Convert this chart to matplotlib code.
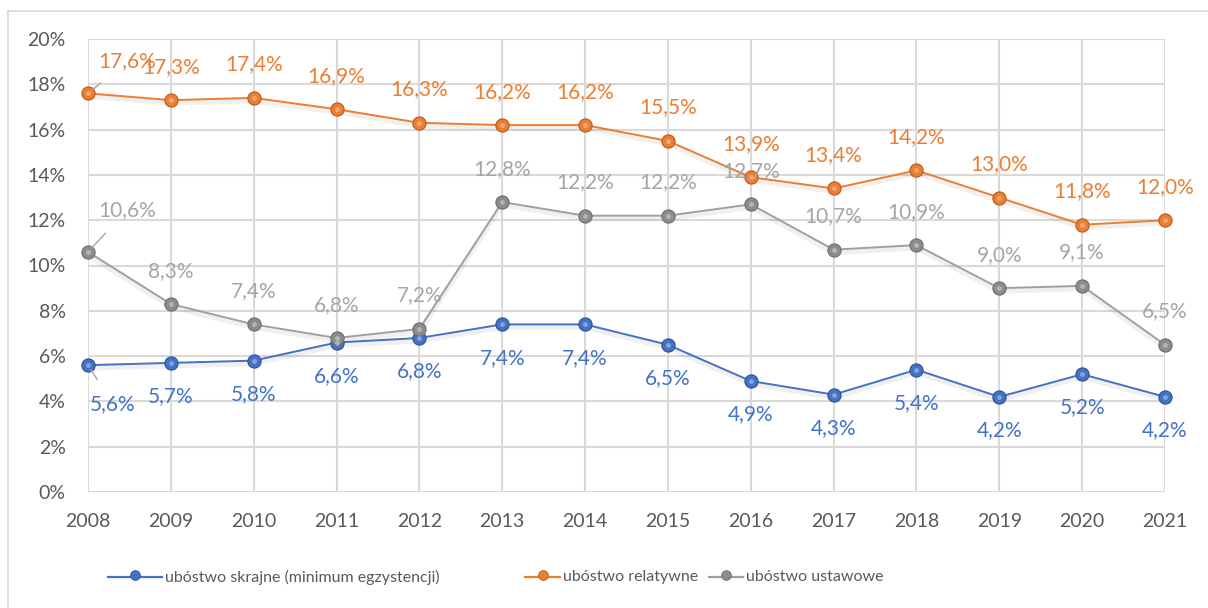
import matplotlib
matplotlib.use("Agg")
import matplotlib.pyplot as plt
from matplotlib.lines import Line2D

plt.rcParams['font.family'] = ['Lato', 'DejaVu Sans']

years = [2008, 2009, 2010, 2011, 2012, 2013, 2014, 2015, 2016, 2017, 2018, 2019, 2020, 2021]
skrajne = [5.6, 5.7, 5.8, 6.6, 6.8, 7.4, 7.4, 6.5, 4.9, 4.3, 5.4, 4.2, 5.2, 4.2]
relatywne = [17.6, 17.3, 17.4, 16.9, 16.3, 16.2, 16.2, 15.5, 13.9, 13.4, 14.2, 13.0, 11.8, 12.0]
ustawowe = [10.6, 8.3, 7.4, 6.8, 7.2, 12.8, 12.2, 12.2, 12.7, 10.7, 10.9, 9.0, 9.1, 6.5]
yticks = [0, 2, 4, 6, 8, 10, 12, 14, 16, 18, 20]
names = ["ubóstwo skrajne (minimum egzystencji)", "ubóstwo relatywne", "ubóstwo ustawowe"]

BLUE = "#4472C4"
ORANGE = "#ED7D31"
GRAY = "#A5A5A5"
GRID = "#D9D9D9"
TXT = "#595959"

W, H = 1208, 608
fig = plt.figure(figsize=(W / 100, H / 100), dpi=100)
# chart frame (left and top)
fig.add_artist(Line2D([8 / W, 8 / W], [0, 1 - 11 / H], color=GRID, lw=1.2))
fig.add_artist(Line2D([8 / W, 1], [1 - 11 / H, 1 - 11 / H], color=GRID, lw=1.2))

ax = fig.add_axes([88 / W, 1 - 492 / H, (1165 - 88) / W, (492 - 39) / H])
ax.set_xlim(years[0], years[-1])
ax.set_ylim(0, 20)
ax.set_yticks(yticks)
ax.set_yticklabels([f"{v}%" for v in yticks])
ax.set_xticks(years)
ax.set_xticklabels([str(y) for y in years])
ax.grid(True, color=GRID, lw=1.5)
ax.set_axisbelow(True)
for s in ax.spines.values():
    s.set_visible(False)
ax.tick_params(length=0, colors=TXT)
ax.tick_params(axis='x', pad=15, labelsize=14)
ax.tick_params(axis='y', pad=16, labelsize=14)

styles = [
    dict(line=BLUE, face=BLUE, edge="#2F528F", lab=BLUE, d=-1),
    dict(line=ORANGE, face=ORANGE, edge="#B85B1C", lab=ORANGE, d=1),
    dict(line="#A0A0A0", face="#8C8C8C", edge="#6E6E6E", lab=GRAY, d=1),
]
datasets = [skrajne, relatywne, ustawowe]
first_offsets = [(18, -28), (28, 23), (28, 30)]

for vals, st, off0, nm in zip(datasets, styles, first_offsets, names):
    ax.plot(years, [v - 0.12 for v in vals], color="#000000", alpha=0.06, lw=4, clip_on=False, zorder=2)
    ax.plot(years, vals, color=st['line'], lw=1.4, marker='o', ms=9.5,
            mfc=st['face'], mec=st['edge'], mew=0.8, clip_on=False, zorder=3, label=nm)
    ax.plot(years, vals, ls='none', marker='o', ms=3.5, mfc="white", mec='none', alpha=0.35,
            clip_on=False, zorder=4)
    for i, (x, v) in enumerate(zip(years, vals)):
        txt = f"{v:.1f}%".replace('.', ',')
        if i == 0:
            ax.annotate(txt, (x, v), xytext=off0, textcoords='offset points', ha='center', va='center',
                        color=st['lab'], fontsize=15, zorder=5,
                        arrowprops=dict(arrowstyle='-', color='#A6A6A6', lw=1, shrinkA=10, shrinkB=4))
        else:
            ax.annotate(txt, (x, v), xytext=(0, 24 * st['d']), textcoords='offset points',
                        ha='center', va='center', color=st['lab'], fontsize=15, zorder=5)

# legend drawn manually to match reference spacing
leg_y = 1 - 577 / H
leg_items = [(108, 162), (525, 560), (709, 743)]
for (x0, x1), st, nm in zip(leg_items, styles, names):
    fig.add_artist(Line2D([x0 / W, x1 / W], [leg_y, leg_y], color=st['line'], lw=1.6))
    fig.add_artist(Line2D([(x0 + x1) / 2 / W], [leg_y + 2 / H], ls='none', marker='o', ms=7,
                          mfc=st['face'], mec=st['edge'], mew=0.6))
    fig.text((x1 + 3) / W, leg_y, nm, fontsize=11.5, color=TXT, ha='left', va='center')

fig.savefig("out.png", dpi=100, facecolor="white")
